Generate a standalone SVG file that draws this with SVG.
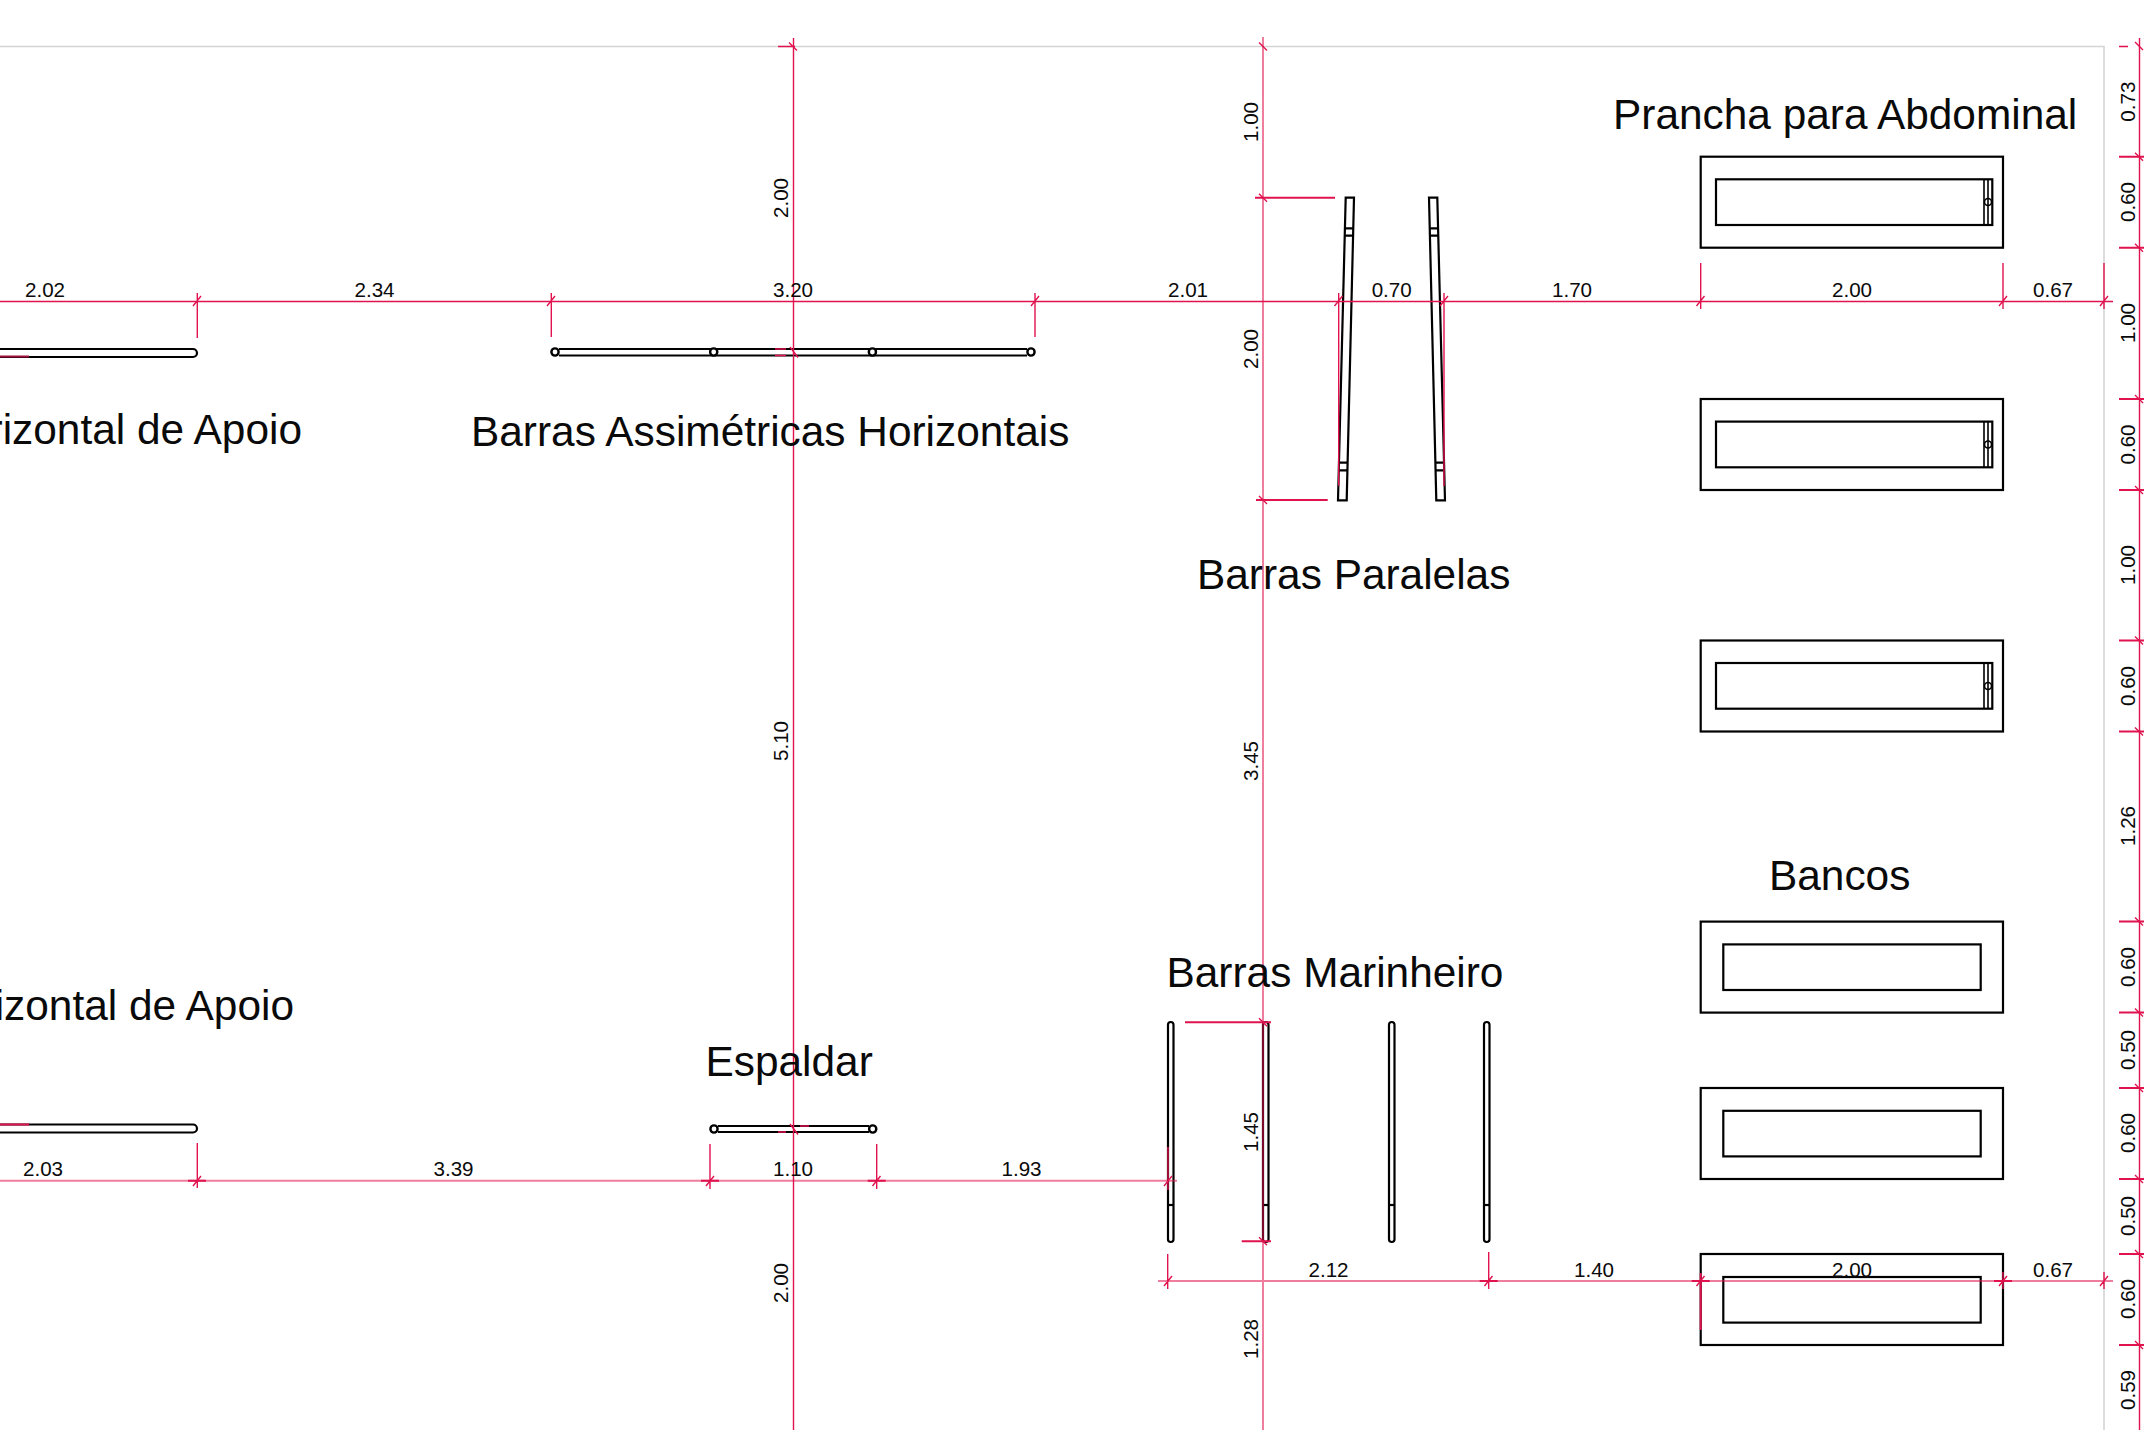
<svg xmlns="http://www.w3.org/2000/svg" width="2144" height="1430" viewBox="0 0 2144 1430">
<style>
text{font-family:"Liberation Sans",Arial,sans-serif;fill:#0a0a0a}
.t{font-size:42.4px}
.d{font-size:20.6px;text-anchor:middle}
.o{fill:none;stroke:#000;stroke-width:2.2}
.w{fill:#fff;stroke:#000;stroke-width:2.4}
.f{fill:none;stroke:#000;stroke-width:1.6}
.r{fill:none;stroke:#e0134f;stroke-width:1.4}
.k{fill:none;stroke:#e0134f;stroke-width:2}
.p{fill:none;stroke:#e0134f;stroke-width:2;stroke-opacity:.55}
</style>
<rect width="2144" height="1430" fill="#fff"/>
<path d="M0 46.5H2104V1430" fill="none" stroke="#d4d4d4" stroke-width="1.6"/>
<g id="barra-apoio-1"><path class="o" d="M0 349H193a4 4 0 0 1 0 8H0"/><path class="k" style="stroke:#a0103c" d="M0 356.5H29"/></g>
<g id="barra-apoio-2"><path class="o" d="M0 1124.5H193a4 4 0 0 1 0 8H0"/><path class="k" d="M0 1124.5H29"/></g>
<g id="barras-assimetricas"><path class="o" d="M559 349H1027M559 355.5H1027"/><circle class="w" cx="555" cy="352" r="3.6"/><circle class="w" cx="713.7" cy="352" r="3.6"/><circle class="w" cx="872.4" cy="352" r="3.6"/><circle class="w" cx="1031" cy="352" r="3.6"/></g>
<g id="espaldar"><path class="o" d="M718 1126H869M718 1132H869"/><circle class="w" cx="714" cy="1129" r="3.6"/><circle class="w" cx="872.7" cy="1129" r="3.6"/></g>
<g id="barras-paralelas"><path class="o" d="M1345.7 197.7H1354L1346.7 500.3H1338ZM1344.9 228.3H1353.2M1344.7 235.7H1353M1339.6 462.7H1347.8M1339.4 470.3H1347.6"/><path class="o" d="M1429 197.7H1437.3L1445 500.3H1436.3ZM1429.8 228.3H1438M1430 235.7H1438.2M1435.5 462.7H1444M1435.7 470.3H1444.2"/></g>
<g id="barras-marinheiro"><g id="m1"><rect class="o" x="1168" y="1022" width="5.5" height="220" rx="2.7"/><path class="o" d="M1168 1205H1173.5"/></g><g id="m2"><rect class="o" x="1263" y="1022" width="5.5" height="220" rx="2.7"/><path class="o" d="M1263 1205H1268.5"/></g><g id="m3"><rect class="o" x="1389" y="1022" width="5.5" height="220" rx="2.7"/><path class="o" d="M1389 1205H1394.5"/></g><g id="m4"><rect class="o" x="1484" y="1022" width="5.5" height="220" rx="2.7"/><path class="o" d="M1484 1205H1489.5"/></g></g>
<g id="prancha-1"><rect class="o" x="1700.7" y="156.7" width="302.3" height="91"/><rect class="o" x="1716" y="179.3" width="276.3" height="45.7"/><path class="f" d="M1984 179.3V225M1988 179.3V225"/><circle class="f" cx="1988" cy="202" r="3.5"/></g>
<g id="prancha-2"><rect class="o" x="1700.7" y="399" width="302.3" height="91"/><rect class="o" x="1716" y="421.6" width="276.3" height="45.7"/><path class="f" d="M1984 421.6V467.3M1988 421.6V467.3"/><circle class="f" cx="1988" cy="444.5" r="3.5"/></g>
<g id="prancha-3"><rect class="o" x="1700.7" y="640.5" width="302.3" height="91"/><rect class="o" x="1716" y="663" width="276.3" height="45.7"/><path class="f" d="M1984 663V708.7M1988 663V708.7"/><circle class="f" cx="1988" cy="686" r="3.5"/></g>
<g id="banco-1"><rect class="o" x="1700.7" y="921.6" width="302.3" height="91"/><rect class="o" x="1723.3" y="944.4" width="257.4" height="45.6"/></g>
<g id="banco-2"><rect class="o" x="1700.7" y="1088" width="302.3" height="91"/><rect class="o" x="1723.3" y="1110.8" width="257.4" height="45.6"/></g>
<g id="banco-3"><rect class="o" x="1700.7" y="1254" width="302.3" height="91"/><rect class="o" x="1723.3" y="1277" width="257.4" height="45.6"/></g>
<g id="connectors">
<path class="r" d="M0 301.5H2113M793.5 38V1430M2139.5 38V1430"/>
<path class="p" d="M1263 37V1430M1158 1281H2113M0 1180.7H1177"/>
<path class="k" d="M188 1180.7H206M701 1180.7H719M867.7 1180.7H885.7M1479.7 1281H1497.7M1691.7 1281H1709.7M1994 1281H2012M1259 1281"/>
<path class="r" d="M197.3 293V338M551.3 293V337M1035 293V337M1338.7 293V485.7M1444 293V486M1700.7 263V309M2003 263V309M2104 263V309M193 306l8-10M547 306l8-10M1031 306l8-10M1334.5 306l8-10M1440 306l8-10M1696.5 306l8-10M1999 306l8-10M2100 306l8-10"/>
<path class="r" d="M197.3 1143V1188M710 1144V1189M876.7 1144V1189M1168 1147V1190M193 1186l8-10M706 1186l8-10M872.5 1186l8-10M1164 1186l8-10"/>
<path class="r" d="M1167.7 1254V1289M1488.7 1252V1289M2003 1272V1289M2104 1272V1289M1164 1286l8-10M1484.5 1286l8-10M1696.5 1286l8-10M1999 1286l8-10M2100 1286l8-10"/>
<path class="k" d="M1700.7 1273V1330"/>
<path class="k" d="M1255 197.7H1335M1256 500H1327.7M1185 1022.3H1271M1241.7 1241.3H1271"/>
<path class="r" d="M1259 42.5l8 8M1259 193.7l8 8M1259 496l8 8M1259 1018.3l8 8M1259 1237.3l8 8M778 46.5H795M789 42.5l8 8M775 349H786M775 355.5H786M790 347l8 10.5M800 1126H809M778 1132H786M790 1124l8 10.5"/>
<path class="k" d="M2119 156.7H2144M2119 247.7H2144M2119 399H2144M2119 490H2144M2119 640.5H2144M2119 731.5H2144M2119 921.6H2144M2119 1012.6H2144M2119 1088H2144M2119 1179H2144M2119 1254H2144M2119 1345H2144"/>
<path class="r" d="M2119 46.5H2128M2135 42l8 8M2135 152.7l8 8M2135 243.7l8 8M2135 395l8 8M2135 486l8 8M2135 636.5l8 8M2135 727.5l8 8M2135 917.6l8 8M2135 1008.6l8 8M2135 1084l8 8M2135 1175l8 8M2135 1250l8 8M2135 1341l8 8"/>
</g>
<g id="labels">
<text class="t" x="1613" y="129">Prancha para Abdominal</text>
<text class="t" x="302" y="444" text-anchor="end">rizontal de Apoio</text>
<text class="t" x="294" y="1020" text-anchor="end">izontal de Apoio</text>
<text class="t" x="471" y="446">Barras Assimétricas Horizontais</text>
<text class="t" x="1197" y="589">Barras Paralelas</text>
<text class="t" x="1166.5" y="987">Barras Marinheiro</text>
<text class="t" x="705.5" y="1076">Espaldar</text>
<text class="t" x="1769" y="890">Bancos</text>
</g>
<g id="dims">
<text class="d" x="45" y="296.7">2.02</text><text class="d" x="374.5" y="296.7">2.34</text><text class="d" x="793" y="296.7">3.20</text><text class="d" x="1188" y="296.7">2.01</text><text class="d" x="1391.7" y="296.7">0.70</text><text class="d" x="1572" y="296.7">1.70</text><text class="d" x="1852" y="296.7">2.00</text><text class="d" x="2053" y="296.7">0.67</text>
<text class="d" x="43" y="1176">2.03</text><text class="d" x="453.5" y="1176">3.39</text><text class="d" x="793" y="1176">1.10</text><text class="d" x="1021.5" y="1176">1.93</text>
<text class="d" x="1328.5" y="1276.5">2.12</text><text class="d" x="1594" y="1276.5">1.40</text><text class="d" x="1852" y="1276.5">2.00</text><text class="d" x="2053" y="1276.5">0.67</text>
<text class="d" transform="translate(788 198) rotate(-90)">2.00</text><text class="d" transform="translate(788 741) rotate(-90)">5.10</text><text class="d" transform="translate(788 1283) rotate(-90)">2.00</text>
<text class="d" transform="translate(1258 122) rotate(-90)">1.00</text><text class="d" transform="translate(1258 349) rotate(-90)">2.00</text><text class="d" transform="translate(1258 761) rotate(-90)">3.45</text><text class="d" transform="translate(1258 1132) rotate(-90)">1.45</text><text class="d" transform="translate(1258 1339) rotate(-90)">1.28</text>
<text class="d" transform="translate(2135 101.6) rotate(-90)">0.73</text><text class="d" transform="translate(2135 202) rotate(-90)">0.60</text><text class="d" transform="translate(2135 323) rotate(-90)">1.00</text><text class="d" transform="translate(2135 444.5) rotate(-90)">0.60</text><text class="d" transform="translate(2135 565) rotate(-90)">1.00</text><text class="d" transform="translate(2135 686) rotate(-90)">0.60</text><text class="d" transform="translate(2135 826) rotate(-90)">1.26</text><text class="d" transform="translate(2135 967) rotate(-90)">0.60</text><text class="d" transform="translate(2135 1050) rotate(-90)">0.50</text><text class="d" transform="translate(2135 1133) rotate(-90)">0.60</text><text class="d" transform="translate(2135 1216) rotate(-90)">0.50</text><text class="d" transform="translate(2135 1299) rotate(-90)">0.60</text><text class="d" transform="translate(2135 1390) rotate(-90)">0.59</text>
</g>
</svg>
